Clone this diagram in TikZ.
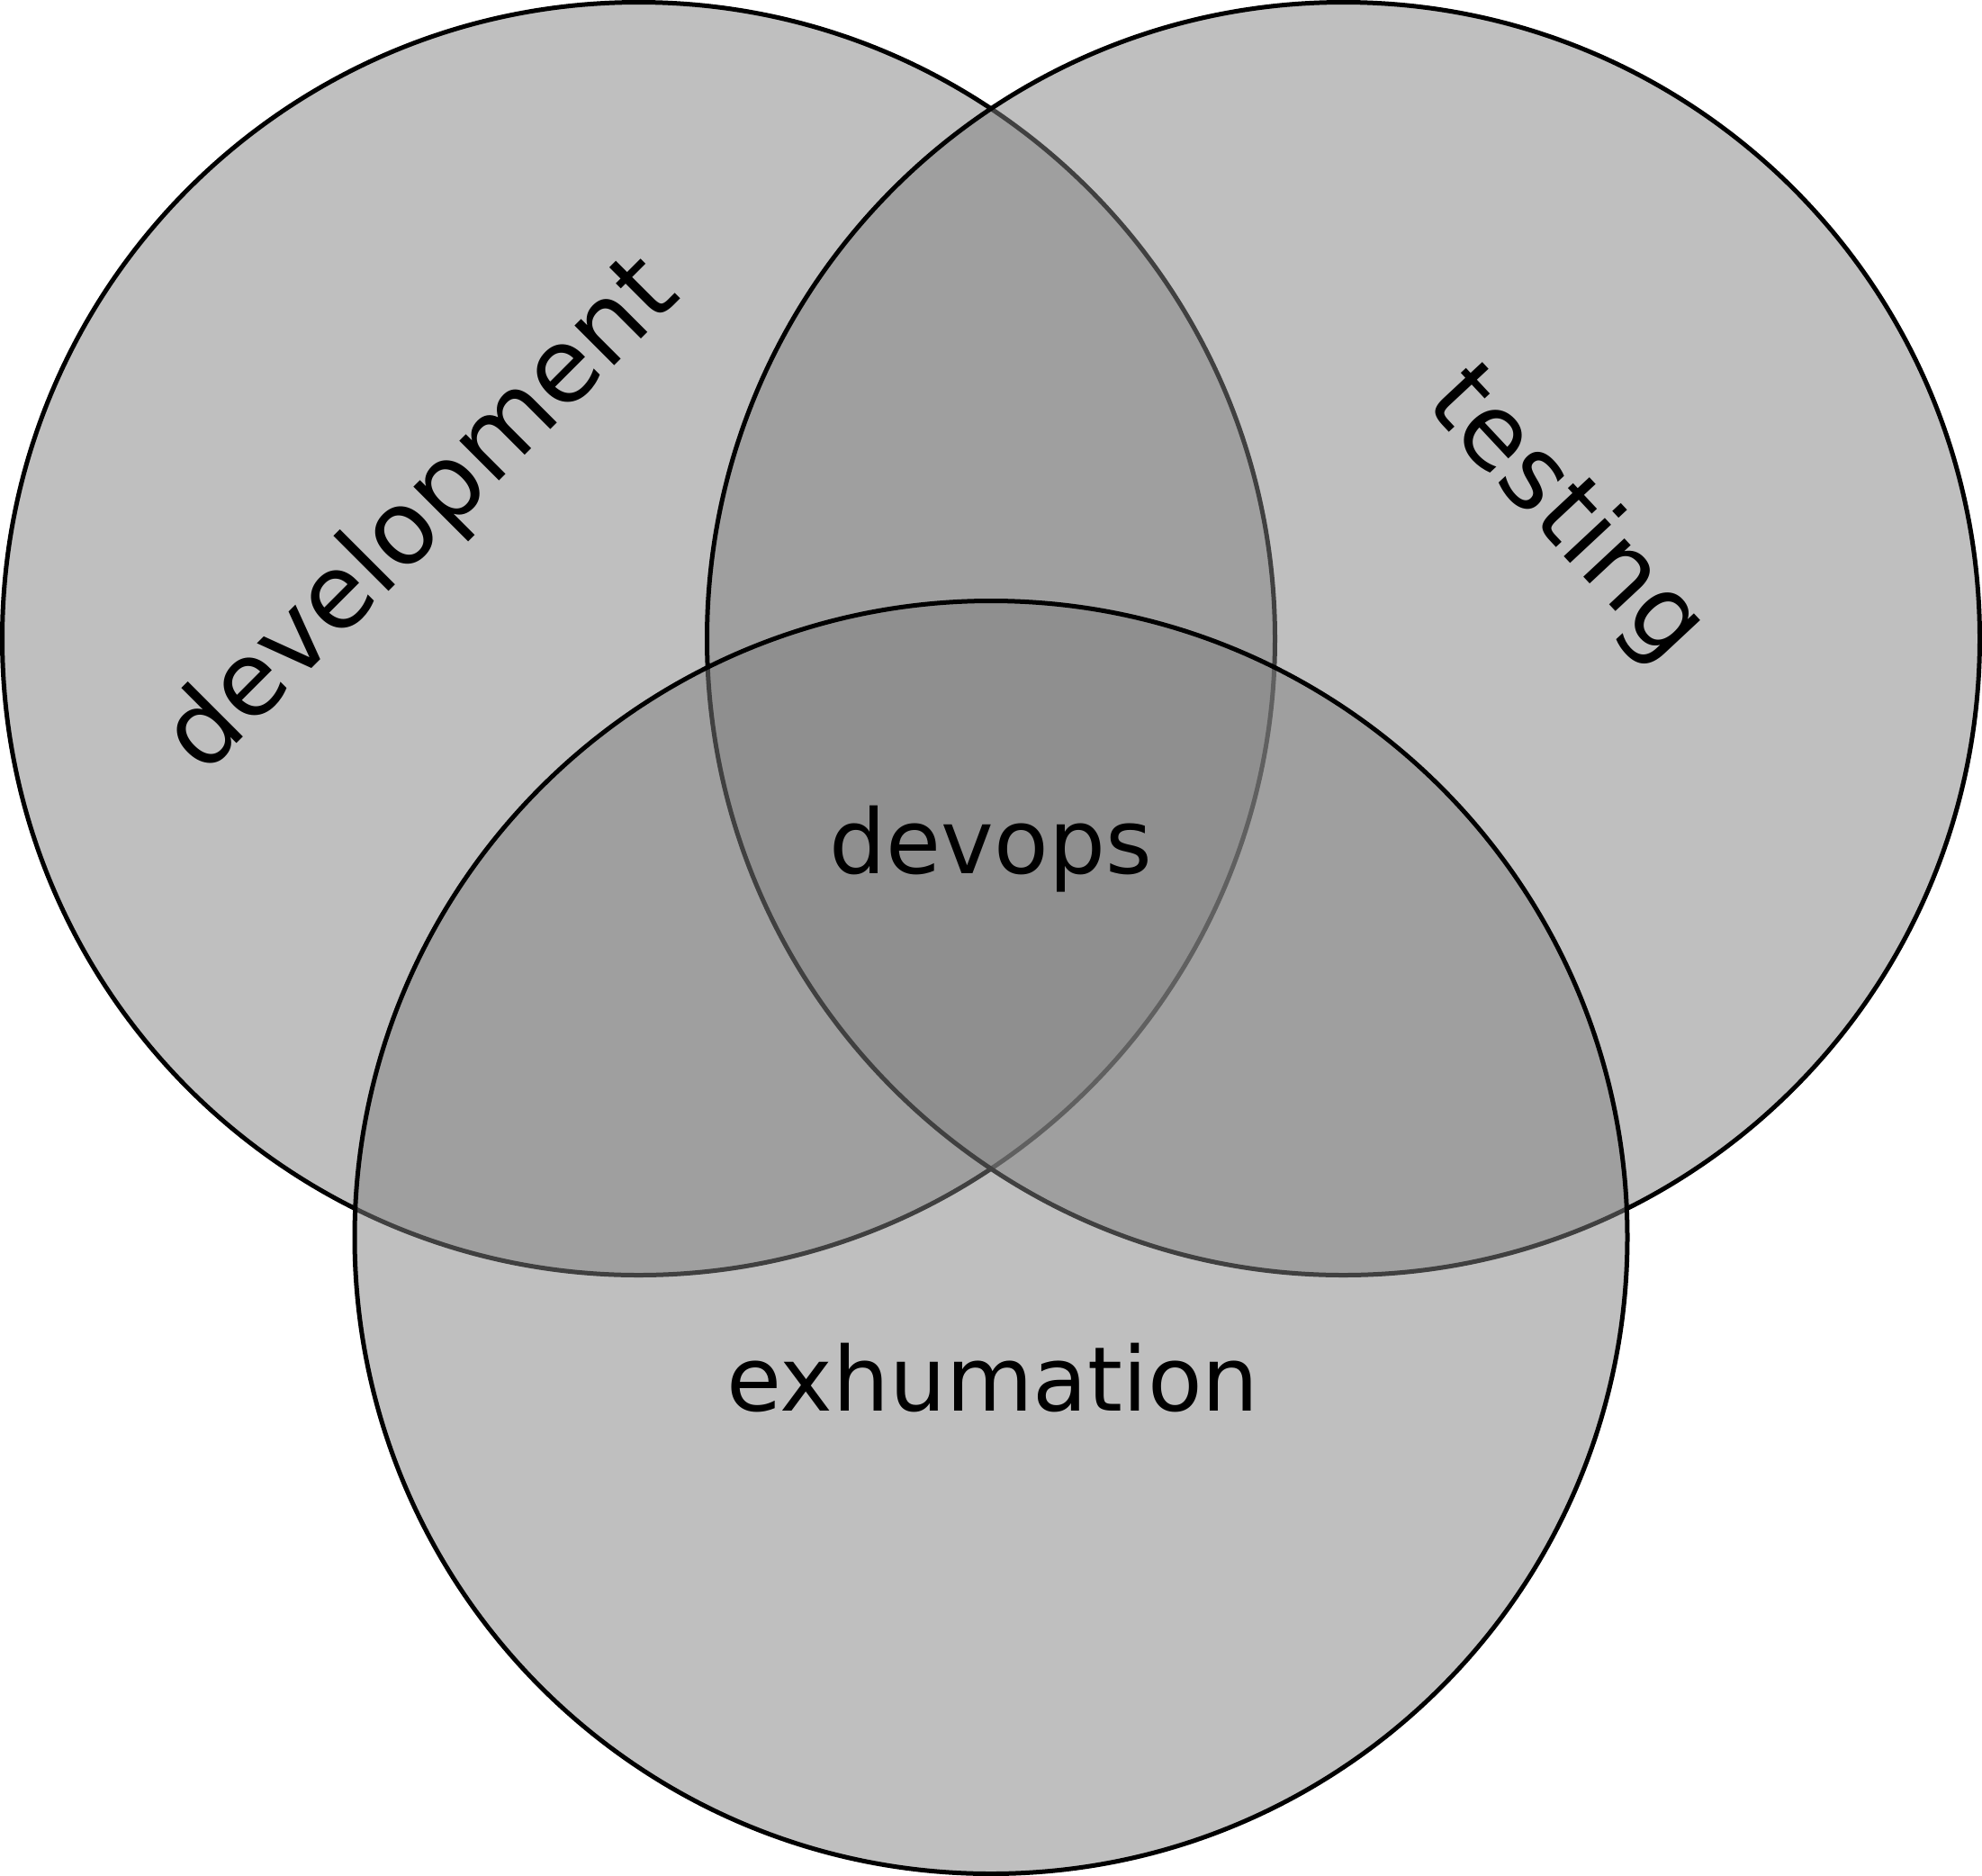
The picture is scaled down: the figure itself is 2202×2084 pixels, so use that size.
\documentclass[tikz,border=0pt]{standalone}
\usepackage{fontspec}
\setmainfont{DejaVu Sans}
\begin{document}
\begin{tikzpicture}[x=0.5pt,y=-0.5pt,
  venn/.style={draw=black, line width=2.5pt, fill=gray, fill opacity=0.5},
  lab/.style={inner sep=0pt, text=black, font=\fontsize{49.6}{60}\selectfont},
  biglab/.style={inner sep=0pt, text=black, font=\fontsize{57}{70}\selectfont}]
\useasboundingbox (0,0) rectangle (2202,2084);
\coordinate (cL) at (709.5,709.5);
\coordinate (cR) at (1492.5,709.5);
\coordinate (cB) at (1101,1374.5);
\draw[venn] (cL) circle[radius=353.5pt];
\draw[venn] (cR) circle[radius=353.5pt];
\draw[venn] (cB) circle[radius=353.5pt];
\node[biglab, rotate=45] (dev) at (470,574) {development};
\node[biglab, rotate=-47] (tst) at (1739,573) {testing};
\node[lab, anchor=base] (dvo) at (1101,970) {devops};
\node[lab, anchor=base] (exh) at (1103,1567) {exhumation};
\end{tikzpicture}
\end{document}
